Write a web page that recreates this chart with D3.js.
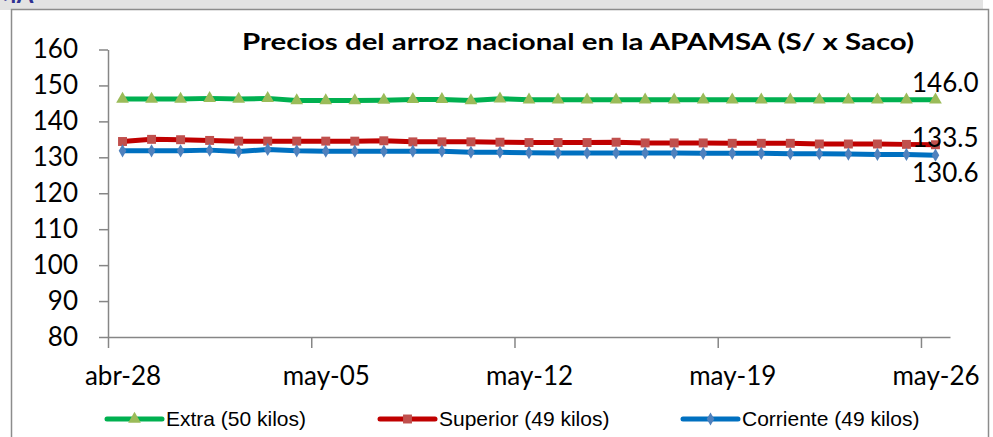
<!DOCTYPE html>
<html>
<head>
<meta charset="utf-8">
<script src="https://cdn.jsdelivr.net/npm/d3@7"></script>
<style>
  body { margin: 0; background: #fff; }
  svg { display: block; }
</style>
</head>
<body>
<div id="chart"></div>
<script>
// daily prices, abr-28 .. may-26
const startDay = "2014-04-28";
const extra     = [146.2,146.2,146.2,146.4,146.2,146.4,145.8,145.8,145.8,145.9,146.1,146.1,145.8,146.3,146.0,
                   146.0,146.0,146.0,146.0,146.0,146.0,146.0,146.0,146.0,146.0,146.0,146.0,146.0,146.0];
const superior  = [134.4,135.0,134.9,134.7,134.5,134.5,134.5,134.5,134.5,134.6,134.3,134.3,134.3,134.2,134.1,
                   134.1,134.1,134.2,134.0,134.0,134.0,133.9,133.9,133.9,133.7,133.7,133.7,133.6,133.5];
const corriente = [131.8,131.8,131.8,132.0,131.6,132.2,131.8,131.7,131.7,131.7,131.7,131.7,131.4,131.4,131.3,
                   131.2,131.2,131.2,131.2,131.2,131.1,131.1,131.1,131.0,131.0,130.9,130.8,130.8,130.6];
const seriesNames = ["Extra (50 kilos)", "Superior (49 kilos)", "Corriente (49 kilos)"];
const xTickLabels = ["abr-28", "may-05", "may-12", "may-19", "may-26"];
const yTicks = [80, 90, 100, 110, 120, 130, 140, 150, 160];
const endLabels = ["146.0", "133.5", "130.6"];

const width = 993, height = 437;
const margin = { top: 49.5, right: 43, bottom: 100, left: 108 };

let parse = d3.utcParse("%Y-%m-%d");
let day0 = parse(startDay);
let dates = extra.map((d, i) => d3.utcDay.offset(day0, i));

let styles = [
  { line: "#00b050", fill: "#9bbb59", shape: d3.symbolTriangle, size: 70 },
  { line: "#c00000", fill: "#c0504d", shape: d3.symbolSquare, size: 80 },
  { line: "#0070c0", fill: "#4f81bd", shape: d3.symbolDiamond, size: 50 }
];
let series = [extra, superior, corriente].map((vals, k) => ({
  name: seriesNames[k],
  label: endLabels[k],
  style: styles[k],
  values: vals.map((v, i) => ({ date: dates[i], value: v }))
}));

let x = d3.scaleUtc()
  .domain([day0, d3.utcDay.offset(day0, extra.length)])
  .range([margin.left, width - margin.right]);

let y = d3.scaleLinear()
  .domain([80, 160])
  .range([height - margin.bottom, margin.top]);

// points sit in the middle of their day
let xMid = d => x(d3.utcHour.offset(d, 12));
let halfDay = xMid(day0) - x(day0);

const svg = d3.select("#chart")
  .append("svg")
  .attr("width", width)
  .attr("height", height)
  .attr("viewBox", [0, 0, width, height]);

// frame of the pasted chart
svg.append("rect")
  .attr("x", 0).attr("y", 0).attr("width", 983).attr("height", 10)
  .attr("fill", "#e3e3e3");
svg.append("text")
  .attr("x", -6).attr("y", 3)
  .attr("font-family", "Lato, sans-serif")
  .attr("font-weight", "bold")
  .attr("font-size", 24)
  .attr("fill", "#2e3192")
  .text("MA");
svg.append("rect")
  .attr("x", 11.5).attr("y", 9.5).attr("width", 977).attr("height", 440)
  .attr("fill", "#fff")
  .attr("stroke", "#8c8c8c")
  .attr("stroke-width", 1.5);

svg.append("text")
  .attr("x", 578).attr("y", 50)
  .attr("text-anchor", "middle")
  .attr("font-family", "Lato, sans-serif")
  .attr("font-weight", "bold")
  .attr("font-size", 23)
  .attr("textLength", 672)
  .attr("lengthAdjust", "spacingAndGlyphs")
  .text("Precios del arroz nacional en la APAMSA (S/ x Saco)");

// y axis
let gy = svg.append("g")
  .attr("transform", `translate(${margin.left},0)`)
  .call(d3.axisLeft(y).tickValues(yTicks).tickSize(9).tickSizeOuter(0).tickPadding(21));
gy.selectAll("text")
  .attr("font-family", "Lato, sans-serif")
  .attr("font-size", 26)
  .attr("fill", "#000");

// x axis
let tickDates = xTickLabels.map((t, i) => d3.utcDay.offset(day0, i * 7));
let gx = svg.append("g")
  .attr("transform", `translate(0,${height - margin.bottom})`)
  .call(d3.axisBottom(x).tickValues(tickDates).tickSize(11).tickSizeOuter(0)
    .tickPadding(19).tickFormat((d, i) => xTickLabels[i]));
gx.selectAll("text")
  .attr("dx", halfDay)
  .attr("font-family", "Lato, sans-serif")
  .attr("font-size", 26)
  .attr("fill", "#000");

svg.selectAll(".domain, .tick line")
  .attr("stroke", "#868686")
  .attr("stroke-width", 1.5);

// lines and markers
let line = d3.line()
  .x(d => xMid(d.date))
  .y(d => y(d.value));

for (let s of series) {
  svg.append("path")
    .datum(s.values)
    .attr("fill", "none")
    .attr("stroke", s.style.line)
    .attr("stroke-width", 5)
    .attr("stroke-linejoin", "round")
    .attr("d", line);

  svg.append("g")
    .selectAll("path")
    .data(s.values)
    .join("path")
    .attr("transform", d => `translate(${xMid(d.date)},${y(d.value)})`)
    .attr("d", d3.symbol(s.style.shape, s.style.size))
    .attr("fill", s.style.fill);
}

// end labels
let labelY = [92, 147, 182];
series.forEach((s, k) => {
  svg.append("text")
    .attr("x", 912)
    .attr("y", labelY[k])
    .attr("font-family", "Lato, sans-serif")
    .attr("font-size", 26)
    .attr("fill", "#000")
    .text(s.label);
});

// legend
let legendX = [107, 380, 683];
series.forEach((s, k) => {
  let g = svg.append("g").attr("transform", `translate(${legendX[k]},419)`);
  g.append("line")
    .attr("x1", 0).attr("x2", 55)
    .attr("stroke", s.style.line)
    .attr("stroke-width", 5)
    .attr("stroke-linecap", "round");
  g.append("path")
    .attr("transform", "translate(27.5,0)")
    .attr("d", d3.symbol(s.style.shape, s.style.size))
    .attr("fill", s.style.fill);
  g.append("text")
    .attr("x", 59)
    .attr("dy", "0.35em")
    .attr("font-family", "'Liberation Sans', Arial, sans-serif")
    .attr("font-size", 21)
    .attr("fill", "#000")
    .text(s.name);
});
</script>
</body>
</html>
